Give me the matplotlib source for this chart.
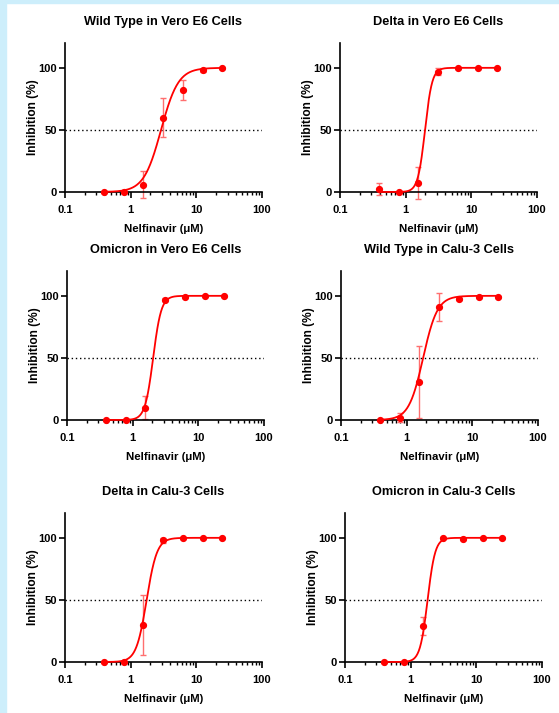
import numpy as np
import matplotlib.pyplot as plt
from matplotlib.ticker import LogLocator, NullFormatter, FixedLocator

plt.rcParams['font.family'] = ['Liberation Sans', 'DejaVu Sans']
plt.rcParams['font.weight'] = 'bold'

# Nelfinavir doses (uM), two-fold dilutions
doses = [0.39, 0.78, 1.56, 3.125, 6.25, 12.5, 25]

titles = [
    "Wild Type in Vero E6 Cells",
    "Delta in Vero E6 Cells",
    "Omicron in Vero E6 Cells",
    "Wild Type in Calu-3 Cells",
    "Delta in Calu-3 Cells",
    "Omicron in Calu-3 Cells",
]

# mean inhibition (%) per panel
wt_vero = [0, 0, 6, 60, 82, 98, 99.5]
delta_vero = [2.5, 0, 7, 97, 99.5, 100, 100]
omicron_vero = [0, 0, 10, 97, 99, 99.5, 99.5]
wt_calu = [0, 2, 31, 91, 97.5, 99, 99]
delta_calu = [0, 0, 30, 98, 99.5, 99.5, 99.5]
omicron_calu = [0, 0, 29, 99.5, 99, 99.5, 99.5]

# error (SD) per panel
wt_vero_err = [0, 0, 11, 16, 8, 1, 0.5]
delta_vero_err = [5, 0, 13, 3, 0.5, 0, 0]
omicron_vero_err = [0, 0, 9.5, 1, 0.5, 0, 0]
wt_calu_err = [0, 4, 29, 11, 1, 0.5, 0.5]
delta_calu_err = [0, 0, 24, 2, 0.5, 0, 0]
omicron_calu_err = [0, 0, 7, 0.5, 0.5, 0, 0]

# fitted IC50 (uM) and Hill slope per panel
ic50 = [2.9, 1.97, 2.05, 1.78, 1.75, 1.81]
hill = [3.3, 8, 7, 4, 5.5, 7.5]

means = [wt_vero, delta_vero, omicron_vero, wt_calu, delta_calu, omicron_calu]
errs = [wt_vero_err, delta_vero_err, omicron_vero_err, wt_calu_err,
        delta_calu_err, omicron_calu_err]

fig = plt.figure(figsize=(5.59, 7.13), dpi=100)
# light blue frame at top and left
fig.patches.append(plt.Rectangle((0, 0), 6 / 559, 1, transform=fig.transFigure,
                                 color='#cdeefb', zorder=0))
fig.patches.append(plt.Rectangle((0, 1 - 2.5 / 713), 1, 2.5 / 713, transform=fig.transFigure,
                                 color='#cdeefb', zorder=0))

lefts = [65, 340, 67, 341, 65, 345]
bottoms = [192, 192, 420, 420, 662, 662]

red = '#ff0000'
for i in range(6):
    l = lefts[i] / 559
    b = 1 - bottoms[i] / 713
    ax = fig.add_axes([l, b, 197 / 559, 149 / 713])

    xs = np.logspace(np.log10(doses[0]), np.log10(doses[-1]), 300)
    ys = 100 / (1 + (ic50[i] / xs) ** hill[i])
    ax.plot(xs, ys, color=red, lw=1.3, zorder=3, clip_on=False)
    ax.errorbar(doses, means[i], yerr=errs[i], fmt='none', ecolor='#ff6f6f',
                elinewidth=1.0, capsize=2.5, capthick=1.0, zorder=2, clip_on=False)
    ax.plot(doses, means[i], 'o', color=red, ms=4.2, zorder=4, clip_on=False)
    ax.axhline(50, color='black', lw=1.0, ls=(0, (1, 2)), zorder=1)

    ax.set_xscale('log')
    ax.set_xlim(0.1, 100)
    ax.set_ylim(0, 120)
    ax.spines['top'].set_visible(False)
    ax.spines['right'].set_visible(False)
    ax.spines['left'].set_linewidth(1.2)
    ax.spines['bottom'].set_linewidth(1.2)
    ax.set_xticks([0.1, 1, 10, 100])
    ax.set_xticklabels(['0.1', '1', '10', '100'])
    ax.xaxis.set_minor_locator(LogLocator(base=10, subs=np.arange(2, 10), numticks=10))
    ax.xaxis.set_minor_formatter(NullFormatter())
    ax.yaxis.set_major_locator(FixedLocator([0, 50, 100]))
    ax.tick_params(axis='both', which='major', direction='out', length=4, width=1.2,
                   labelsize=8)
    ax.tick_params(axis='x', which='major', pad=5.5)
    ax.tick_params(axis='y', which='major', pad=2)
    ax.tick_params(axis='x', which='minor', direction='out', length=2.5, width=1.0)
    for lab in ax.get_xticklabels() + ax.get_yticklabels():
        lab.set_fontweight('bold')

    ax.set_title(titles[i], fontsize=9.2, fontweight='bold', pad=13)
    ax.set_xlabel("Nelfinavir (\u03bcM)", fontsize=8.2, fontweight='bold', labelpad=6.5)
    ax.set_ylabel("Inhibition (%)", fontsize=8.6, fontweight='bold', labelpad=-0.5)

fig.savefig('out.png', dpi=100)
